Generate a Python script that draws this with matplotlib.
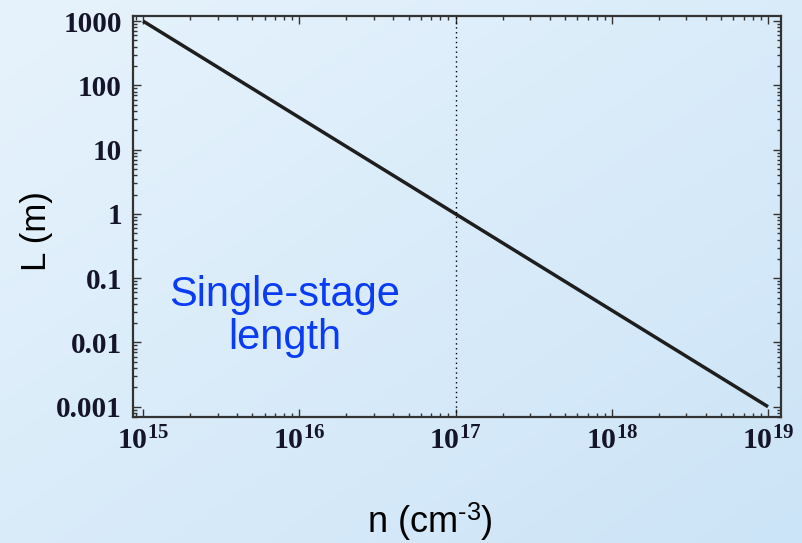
import numpy as np
import matplotlib

matplotlib.use("Agg")
import matplotlib.pyplot as plt  # type: ignore
from matplotlib.ticker import FixedLocator, FixedFormatter, LogLocator, NullFormatter

# plasma density (cm^-3) and single-stage length (m)
n_cm3 = [1e15, 1e16, 1e17, 1e18, 1e19]
length_m = [1000, 31.6, 1.0, 0.0316, 0.001]
marked_density = 1e17

x_ticks = [1e15, 1e16, 1e17, 1e18, 1e19]
x_ticklabels = [r"$10^{15}$", r"$10^{16}$", r"$10^{17}$", r"$10^{18}$", r"$10^{19}$"]
y_ticks = [0.001, 0.01, 0.1, 1, 10, 100, 1000]
y_ticklabels = ["0.001", "0.01", "0.1", "1", "10", "100", "1000"]

xlim = [10**14.935, 10**19.083]
ylim = [10**-3.16, 10**3.08]

plt.rcParams["mathtext.fontset"] = "custom"
plt.rcParams["mathtext.rm"] = "Liberation Serif:bold"
plt.rcParams["mathtext.it"] = "Liberation Serif:italic:bold"
plt.rcParams["mathtext.bf"] = "Liberation Serif:bold"
plt.rcParams["mathtext.sf"] = "Liberation Sans"


def add_background(fig):
    bg = fig.add_axes([0, 0, 1, 1], zorder=-10)
    xx, yy = np.meshgrid(np.linspace(0, 1, 200), np.linspace(0, 1, 200))
    t = (xx + yy) / 2
    top = np.array([231, 243, 252]) / 255
    bot = np.array([204, 228, 247]) / 255
    img = top[None, None, :] * (1 - t[..., None]) + bot[None, None, :] * t[..., None]
    bg.imshow(img, extent=[0, 1, 0, 1], aspect="auto", origin="upper")
    bg.axis("off")


def plot_length(fig):
    ax = fig.add_axes([133 / 803, 1 - 417 / 543, 648 / 803, 401 / 543])
    ax.set_facecolor("none")
    ax.plot(n_cm3, length_m, "-", color="#1e1e1e", lw=2.5, solid_capstyle="butt")
    ax.axvline(marked_density, color="black", lw=1.0, ls=(0, (1, 2.5)))
    ax.set_xscale("log")
    ax.set_yscale("log")
    ax.set_xlim(xlim)
    ax.set_ylim(ylim)

    ax.xaxis.set_major_locator(FixedLocator(x_ticks))
    ax.xaxis.set_major_formatter(FixedFormatter(x_ticklabels))
    ax.yaxis.set_major_locator(FixedLocator(y_ticks))
    ax.yaxis.set_major_formatter(FixedFormatter(y_ticklabels))
    for axis in (ax.xaxis, ax.yaxis):
        axis.set_minor_locator(LogLocator(base=10, subs=np.arange(2, 10), numticks=20))
        axis.set_minor_formatter(NullFormatter())

    ax.tick_params(which="both", direction="in", top=True, right=True,
                   color="#333333", width=1.0, labelcolor="#15152a")
    ax.tick_params(which="major", length=6)
    ax.tick_params(which="minor", length=3)
    ax.tick_params(axis="x", labelsize=21.5, pad=7)
    ax.tick_params(axis="y", labelsize=21, pad=8)
    for lbl in ax.get_yticklabels():
        lbl.set_fontfamily("Liberation Serif")
        lbl.set_fontweight("bold")
    for spine in ax.spines.values():
        spine.set_linewidth(1.6)
        spine.set_color("#333333")

    ax.text(0.234, 0.25, "Single-stage\nlength", transform=ax.transAxes,
            ha="center", va="center", fontsize=30, color="#0a3cf5",
            family="Liberation Sans", linespacing=1.1)
    return ax


def main():
    fig = plt.figure(figsize=(8.03, 5.43), dpi=100)
    add_background(fig)
    plot_length(fig)
    fig.text(37 / 803, 1 - 231 / 543, "L (m)", rotation=90, ha="center",
             va="center", fontsize=25, family="Liberation Sans")
    fig.text(430 / 803, 1 - 522 / 543, "n (cm$^{\\mathsf{\u20103}}$)", ha="center",
             va="center", fontsize=26, family="Liberation Sans")
    fig.savefig("out.png", dpi=100)


if __name__ == "__main__":
    main()
